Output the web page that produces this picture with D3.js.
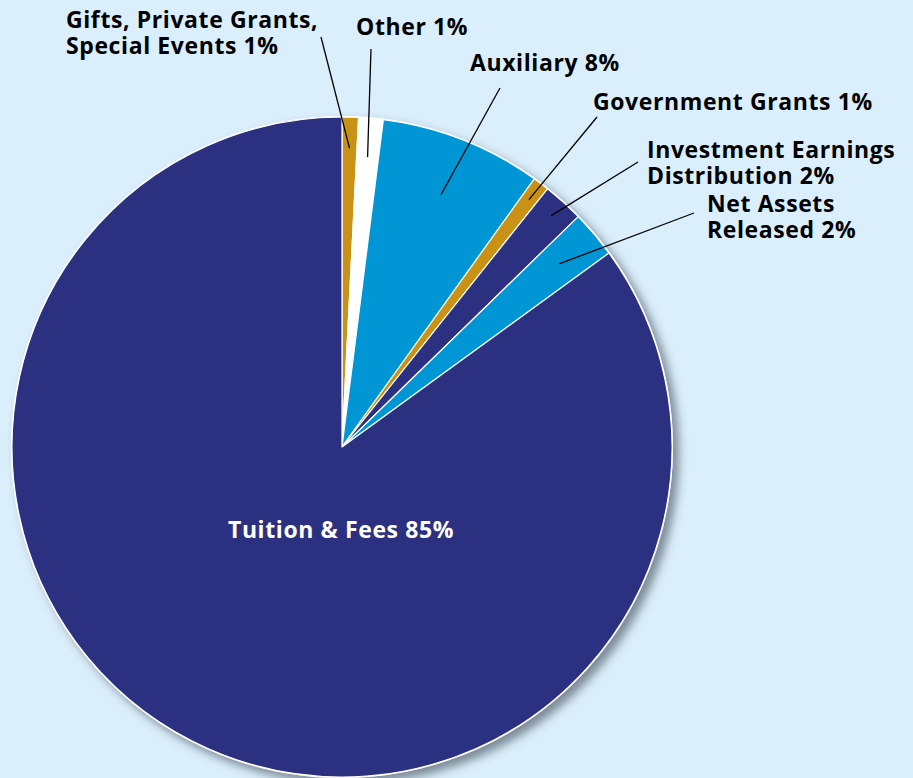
<!DOCTYPE html>
<html>
<head>
<meta charset="utf-8">
<script src="https://cdn.jsdelivr.net/npm/d3@7"></script>
<style>
  html, body { margin: 0; padding: 0; background: #dbeefb; }
  svg { display: block; }
  .lbl { font-family: "Open Sans", "DejaVu Sans", sans-serif; font-weight: 700; font-size: 23px; letter-spacing: 0.6px; fill: #000; }
</style>
</head>
<body>
<div id="chart"></div>
<script>
(function () {

  // Revenue shares (%), clockwise from 12 o'clock
  const categories = ["Gifts, Private Grants, Special Events", "Other", "Auxiliary",
    "Government Grants", "Investment Earnings Distribution", "Net Assets Released", "Tuition & Fees"]
  const values = [0.8, 1.2, 7.9, 0.8, 2.0, 2.3, 85.0]
  const labels = [
    ["Gifts, Private Grants,", "Special Events 1%"],
    ["Other 1%"],
    ["Auxiliary 8%"],
    ["Government Grants 1%"],
    ["Investment Earnings", "Distribution 2%"],
    ["Net Assets", "Released 2%"],
    ["Tuition & Fees 85%"]
  ]
  const colors = ["#c99214", "#ffffff", "#0096d6", "#c99214", "#2b3080", "#0096d6", "#2b3080"]

  // Label layout: text x / first baseline, leader start, leader end radius
  const layout = [
    { x: 66, y: 28, lx: 321, ly: 37, r: 299 },
    { x: 356, y: 35, lx: 371, ly: 49, r: 291 },
    { x: 470, y: 71, lx: 500, ly: 88, r: 271 },
    { x: 593, y: 110, lx: 597, ly: 117, r: 310 },
    { x: 647, y: 158, lx: 638, ly: 162, r: 312 },
    { x: 707, y: 212, lx: 694, ly: 213, r: 284 },
    { x: 341, y: 538, center: true }
  ]

  const width = 913
  const height = 778
  const cx = 342, cy = 447, radius = 330

  const svg = d3.select("#chart").append("svg")
      .attr("width", width)
      .attr("height", height)

  const defs = svg.append("defs")
  const f = defs.append("filter").attr("id", "shadow")
      .attr("x", "-10%").attr("y", "-10%").attr("width", "130%").attr("height", "130%")
  f.append("feDropShadow")
      .attr("dx", 6).attr("dy", 6).attr("stdDeviation", 5)
      .attr("flood-color", "#3b4a55").attr("flood-opacity", 0.6)

  const g = svg.append("g").attr("transform", `translate(${cx},${cy})`)

  const pie = d3.pie().sort(null).value(d => d)
  const arcs = pie(values)
  const arc = d3.arc().innerRadius(0).outerRadius(radius)

  // shadow + white rim
  g.append("circle")
      .attr("r", radius)
      .attr("fill", "#2b3080")
      .attr("stroke", "#ffffff")
      .attr("stroke-width", 2)
      .attr("filter", "url(#shadow)")

  g.selectAll("path.slice")
    .data(arcs)
    .join("path")
      .attr("class", "slice")
      .attr("d", arc)
      .attr("fill", (d, i) => colors[i])
      .attr("stroke", "#ffffff")
      .attr("stroke-width", 1.2)
      .attr("stroke-linejoin", "round")

  // leader lines
  arcs.forEach((d, i) => {
    const L = layout[i]
    if (L.center) return
    const p = d3.arc().innerRadius(L.r).outerRadius(L.r).centroid(d)
    svg.append("line")
        .attr("x1", L.lx).attr("y1", L.ly)
        .attr("x2", cx + p[0]).attr("y2", cy + p[1])
        .attr("stroke", "#000").attr("stroke-width", 1.3)
  })

  // labels
  labels.forEach((lines, i) => {
    const L = layout[i]
    const t = svg.append("text")
        .attr("class", "lbl")
        .attr("x", L.x).attr("y", L.y)
        .attr("text-anchor", L.center ? "middle" : "start")
        .style("fill", L.center ? "#ffffff" : "#000000")
    lines.forEach((s, k) => {
      t.append("tspan").attr("x", L.x).attr("dy", k === 0 ? 0 : 26).text(s)
    })
  })

})();
</script>
</body>
</html>
